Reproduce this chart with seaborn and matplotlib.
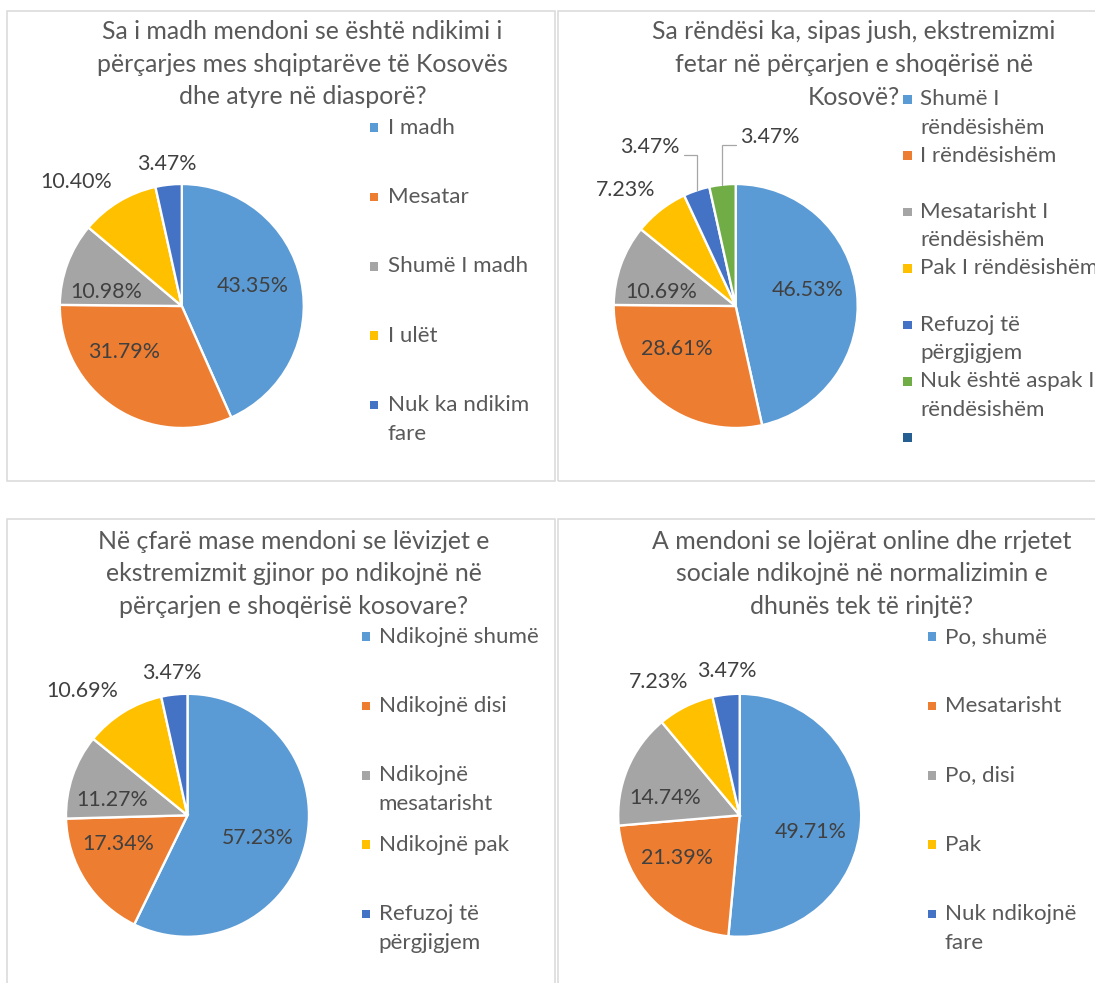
import textwrap
import numpy as np
import pandas as pd
import matplotlib
matplotlib.use("Agg")
import matplotlib.pyplot as plt
import seaborn as sns
from matplotlib.patches import Rectangle
from matplotlib.textpath import TextPath
from matplotlib.font_manager import FontProperties

# ------------------------------------------------------------------ data
q1_title = ["Sa i madh mendoni se është ndikimi i",
            "përçarjes mes shqiptarëve të Kosovës",
            "dhe atyre në diasporë?"]
q1_categories = ["I madh", "Mesatar", "Shumë I madh", "I ulët", "Nuk ka ndikim fare"]
q1_values = [43.35, 31.79, 10.98, 10.40, 3.47]

q2_title = ["Sa rëndësi ka, sipas jush, ekstremizmi",
            "fetar në përçarjen e shoqërisë në",
            "Kosovë?"]
q2_categories = ["Shumë I rëndësishëm", "I rëndësishëm", "Mesatarisht I rëndësishëm",
                 "Pak I rëndësishëm", "Refuzoj të përgjigjem",
                 "Nuk është aspak I rëndësishëm", ""]
q2_values = [46.53, 28.61, 10.69, 7.23, 3.47, 3.47]

q3_title = ["Në çfarë mase mendoni se lëvizjet e",
            "ekstremizmit gjinor po ndikojnë në",
            "përçarjen e shoqërisë kosovare?"]
q3_categories = ["Ndikojnë shumë", "Ndikojnë disi", "Ndikojnë mesatarisht",
                 "Ndikojnë pak", "Refuzoj të përgjigjem"]
q3_values = [57.23, 17.34, 11.27, 10.69, 3.47]

q4_title = ["A mendoni se lojërat online dhe rrjetet",
            "sociale ndikojnë në normalizimin e",
            "dhunës tek të rinjtë?"]
q4_categories = ["Po, shumë", "Mesatarisht", "Po, disi", "Pak", "Nuk ndikojnë fare"]
q4_values = [49.71, 21.39, 14.74, 7.23, 3.47]

# ------------------------------------------------------------------ style
W, H, DPI = 1095, 983, 100
FONT = "Lato"
excel_colors = sns.color_palette(["#5B9BD5", "#ED7D31", "#A5A5A5", "#FFC000",
                                  "#4472C4", "#70AD47", "#255E91"])
TITLE_COLOR = "#595959"
LEGEND_COLOR = "#595959"
LABEL_COLOR = "#404040"
BORDER_COLOR = "#D9D9D9"
LEADER_COLOR = "#A6A6A6"

sns.set_theme(style="white")
plt.rcParams["font.family"] = [FONT, "DejaVu Sans"]


def fit_size(samples):
    """font size (pt) so that sample strings reach the target pixel widths"""
    sizes = []
    for text, target in samples:
        w = TextPath((0, 0), text, size=100,
                     prop=FontProperties(family=FONT)).get_extents().width
        sizes.append(target * 100 * 72 / (w * DPI))
    return float(np.mean(sizes))


TITLE_FS = fit_size([("Sa i madh mendoni se është ndikimi i", 402),
                     ("Në çfarë mase mendoni se lëvizjet e", 387),
                     ("A mendoni se lojërat online dhe rrjetet", 419)])
LEGEND_FS = fit_size([("Shumë I madh", 137.5), ("Ndikojnë shumë", 157), ("Mesatar", 78.6)])
LABEL_FS = fit_size([("43.35%", 69.6), ("46.53%", 70.7), ("57.23%", 70.4)])

# layout per panel (pixel units, y measured downward)
panels = [
    dict(title=q1_title, cats=q1_categories, vals=q1_values,
         box=(7, 10.7, 554.5, 480.5), title_x=302.5, title_y=31.7, title_step=32.5,
         center=(181.8, 306), r=122,
         leg=dict(mx=374, tx=387.5, y0=127.7, step=69.3, lh=29.3, wrap=13),
         lab=[(70.5, -20), (-57.7, 45.7), (-75.6, -13.7), (-105.2, -124.3), (-15.2, -142)],
         leader=[False] * 5),
    dict(title=q2_title, cats=q2_categories, vals=q2_values,
         box=(558, 10.7, 1110, 480.5), title_x=854, title_y=31.7, title_step=32.8,
         center=(735.7, 306), r=122,
         leg=dict(mx=907.4, tx=920.5, y0=99.3, step=56.4, lh=28.3, wrap=17),
         lab=[(72, -16), (-59, 43), (-74, -14), (-110, -116), (-86, -159), (34, -169)],
         leader=[False] * 4 + [True, True]),
    dict(title=q3_title, cats=q3_categories, vals=q3_values,
         box=(7, 519.3, 554.5, 1000), title_x=293.6, title_y=541.7, title_step=32.2,
         center=(187.5, 815.3), r=121.5,
         leg=dict(mx=366, tx=378.6, y0=636.7, step=69.3, lh=28.6, wrap=14),
         lab=[(70.4, 23), (-68.9, 29), (-75, -15.3), (-105.4, -124.6), (-15.5, -142.6)],
         leader=[False] * 5),
    dict(title=q4_title, cats=q4_categories, vals=q4_values,
         box=(558, 519.3, 1110, 1000), title_x=862, title_y=541.7, title_step=32.2,
         center=(739.7, 815.3), r=121.5,
         leg=dict(mx=932, tx=944.7, y0=636.7, step=69.3, lh=28.6, wrap=14),
         lab=[(71.2, 17), (-63, 43), (-75, -17), (-81.3, -133), (-13.3, -144.3)],
         leader=[False] * 5),
]

# ------------------------------------------------------------------ draw
fig = plt.figure(figsize=(W / DPI, H / DPI), dpi=DPI)
fig.patch.set_facecolor("white")
ax = fig.add_axes([0, 0, 1, 1])


def Y(y):
    return H - y


for p in panels:
    x0, y0, x1, y1 = p["box"]
    ax.add_patch(Rectangle((x0, Y(y1)), x1 - x0, y1 - y0, fill=False,
                           edgecolor=BORDER_COLOR, linewidth=1.1, zorder=1))

    # title
    for j, line in enumerate(p["title"]):
        ax.text(p["title_x"], Y(p["title_y"] + j * p["title_step"]), line,
                ha="center", va="center", fontsize=TITLE_FS, color=TITLE_COLOR)

    # pie
    cx, cy = p["center"]
    r = p["r"]
    vals = p["vals"]
    cols = excel_colors[:len(vals)]
    wedges, _ = ax.pie(vals, colors=cols, startangle=90, counterclock=False,
                       center=(cx, Y(cy)), radius=r, normalize=True,
                       wedgeprops=dict(edgecolor="white", linewidth=1.7))

    # data labels
    for i, v in enumerate(vals):
        dx, dy = p["lab"][i]
        lx, ly = cx + dx, cy + dy
        ax.text(lx, Y(ly), f"{v:.2f}%", ha="center", va="center",
                fontsize=LABEL_FS, color=LABEL_COLOR, zorder=5)
        if p["leader"][i]:
            w = wedges[i]
            mid = np.deg2rad((w.theta1 + w.theta2) / 2)
            ex, ey = cx + r * np.cos(mid), Y(cy) + r * np.sin(mid)
            side = 1 if ex > lx else -1
            sx = lx + side * 34
            hy = Y(ly + 8)
            ax.plot([sx, ex, ex], [hy, hy, ey], color=LEADER_COLOR, lw=0.9,
                    solid_joinstyle="miter", zorder=4)

    # legend (Excel style: square marker + wrapped text)
    lg = p["leg"]
    for k, lab in enumerate(p["cats"]):
        yy = lg["y0"] + k * lg["step"]
        ms = 8.5
        ax.add_patch(Rectangle((lg["mx"] - ms / 2, Y(yy) - ms / 2), ms, ms,
                               facecolor=excel_colors[k], edgecolor="none", zorder=5))
        for j, line in enumerate(textwrap.wrap(lab, lg["wrap"])):
            ax.text(lg["tx"], Y(yy + j * lg["lh"]), line, ha="left", va="center",
                    fontsize=LEGEND_FS, color=LEGEND_COLOR, zorder=5)

ax.set_xlim(0, W)
ax.set_ylim(0, H)
ax.set_aspect("auto")
ax.axis("off")

fig.savefig("out.png", dpi=DPI, facecolor="white")
